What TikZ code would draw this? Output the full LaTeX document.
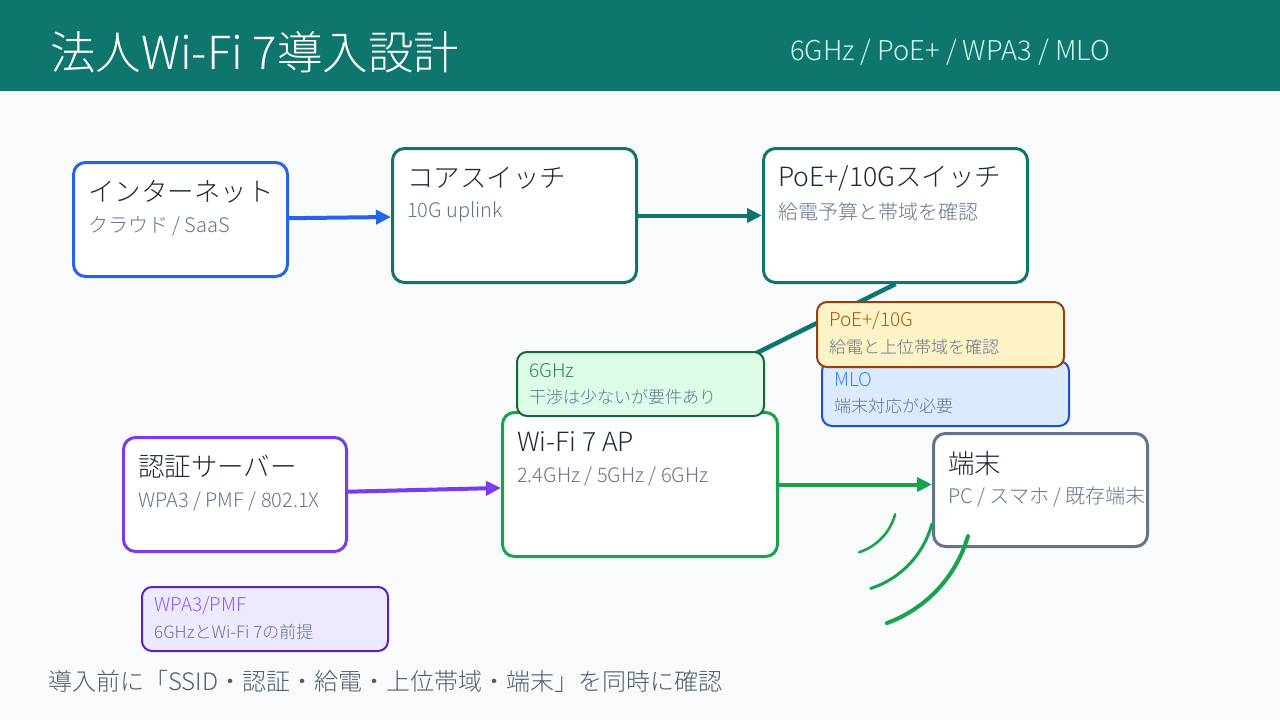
\documentclass[tikz,border=0pt]{standalone}
\usepackage{fontspec}
\setmainfont{Noto Sans CJK JP}[UprightFont={* Light}, BoldFont={*}]
\usetikzlibrary{arrows.meta,positioning}
\definecolor{hdrteal}{HTML}{0F766E}
\definecolor{hdrsub}{HTML}{CCFBF1}
\definecolor{pagebg}{HTML}{F8FAFC}
\definecolor{netblue}{HTML}{2563EB}
\definecolor{authpurple}{HTML}{7C3AED}
\definecolor{apgreen}{HTML}{16A34A}
\definecolor{termslate}{HTML}{64748B}
\definecolor{titleink}{HTML}{1E293B}
\definecolor{subink}{HTML}{64748B}
\definecolor{ghzfill}{HTML}{DCFCE7}
\definecolor{ghzline}{HTML}{166534}
\definecolor{ghzink}{HTML}{2F855A}
\definecolor{poefill}{HTML}{FEF3C7}
\definecolor{poeline}{HTML}{92400E}
\definecolor{poeink}{HTML}{B45309}
\definecolor{mlofill}{HTML}{DBEAFE}
\definecolor{mloline}{HTML}{1D4ED8}
\definecolor{mloink}{HTML}{3B82F6}
\definecolor{wpafill}{HTML}{EDE9FE}
\definecolor{wpaline}{HTML}{5B21B6}
\definecolor{wpaink}{HTML}{8B5CF6}
\tikzset{netbox/.style 2 args={draw, line width=3pt, rounded corners=12pt, fill=white,
  minimum width=#1pt, minimum height=#2pt, inner sep=0pt},
  notebox/.style 2 args={draw, line width=2pt, rounded corners=10pt,
  minimum width=#1pt, minimum height=#2pt, inner sep=0pt},
  headtxt/.style={anchor=west, inner sep=0pt, text=titleink, font=\fontsize{26.5}{30}\selectfont},
  subtxt/.style={anchor=west, inner sep=0pt, text=subink, font=\fontsize{20}{24}\selectfont},
  notehead/.style={anchor=west, inner sep=0pt, font=\fontsize{19}{22}\selectfont},
  notesub/.style={anchor=west, inner sep=0pt, text=subink, font=\fontsize{17}{20}\selectfont},
  flowarrow/.style={-{Triangle[length=15pt,width=14pt]}, line width=4pt},
  wave/.style={line cap=round, draw=apgreen}}

\begin{document}
\begin{tikzpicture}[x=1pt, y=-1pt]
    \fill[pagebg] (0,0) rectangle (1280,720);
    \useasboundingbox (0,0) rectangle (1280,720);
    \fill[hdrteal] (0,0) rectangle (1280,91);
    \node[anchor=west, inner sep=0pt, text=white, font=\fontsize{45.5}{50}\selectfont] (title) at (50,52) {法人Wi-Fi 7導入設計};
    \node[anchor=west, inner sep=0pt, text=hdrsub, font=\fontsize{27.3}{32}\selectfont] (tags) at (790,52) {6GHz / PoE+ / WPA3 / MLO};
    % main devices
    \node[netbox={214}{114}, draw=netblue] (inet) at (180.5,219.5) {};
    \node[netbox={244}{134}, draw=hdrteal] (core) at (514.5,215.5) {};
    \node[netbox={264}{134}, draw=hdrteal] (poe) at (895.5,215.5) {};
    \node[netbox={223}{114}, draw=authpurple] (auth) at (235,494.5) {};
    \node[netbox={275}{144}, draw=apgreen] (ap) at (640,484.5) {};
    \node[netbox={214}{113}, draw=termslate] (term) at (1040.5,490) {};
    \node[headtxt] (inetT) at ([shift={(16,31)}]inet.north west) {インターネット};
    \node[subtxt] (inetS) at ([shift={(16,65)}]inet.north west) {クラウド / SaaS};
    \node[headtxt] (coreT) at ([shift={(16,31)}]core.north west) {コアスイッチ};
    \node[subtxt] (coreS) at ([shift={(16,65)}]core.north west) {10G uplink};
    \node[headtxt] (poeT) at ([shift={(16,31)}]poe.north west) {PoE+/10Gスイッチ};
    \node[subtxt] (poeS) at ([shift={(16,65)}]poe.north west) {給電予算と帯域を確認};
    \node[headtxt] (authT) at ([shift={(16,31)}]auth.north west) {認証サーバー};
    \node[subtxt] (authS) at ([shift={(16,65)}]auth.north west) {WPA3 / PMF / 802.1X};
    \node[headtxt] (apT) at ([shift={(16,31)}]ap.north west) {Wi-Fi 7 AP};
    \node[subtxt] (apS) at ([shift={(16,65)}]ap.north west) {2.4GHz / 5GHz / 6GHz};
    \node[headtxt] (termT) at ([shift={(16,31)}]term.north west) {端末};
    \node[subtxt] (termS) at ([shift={(16,65)}]term.north west) {PC / スマホ / 既存端末};
    % links
    \draw[flowarrow, netblue] (inet) -- (core);
    \draw[flowarrow, hdrteal] (core) -- (poe);
    \draw[flowarrow, hdrteal, line width=4.5pt] (poe.south) -- (ap.north);
    \draw[flowarrow, authpurple] (auth) -- (ap);
    \draw[flowarrow, apgreen] (ap.east) -- (term.west |- ap.east);
    % radio waves
    \coordinate (air) at (842,500);
    \draw[wave, line width=2.5pt] (air) ++(15:55) arc[start angle=15, end angle=72, radius=55];
    \draw[wave, line width=3pt] (air) ++(15:93) arc[start angle=15, end angle=72, radius=93];
    \draw[wave, line width=4pt] (air) ++(16:131) arc[start angle=16, end angle=70, radius=131];
    % notes
    \node[notebox={247}{65}, draw=mloline, fill=mlofill] (mloN) at (945.5,393.5) {};
    \node[notebox={247}{65}, draw=poeline, fill=poefill] (poeN) at (940.5,334.5) {};
    \node[notebox={247}{64}, draw=ghzline, fill=ghzfill] (ghzN) at (640.5,384) {};
    \node[notebox={246}{64}, draw=wpaline, fill=wpafill] (wpaN) at (265,619) {};
    \node[notehead, text=mloink] (mloT) at ([shift={(13,20)}]mloN.north west) {MLO};
    \node[notesub] (mloS) at ([shift={(13,46)}]mloN.north west) {端末対応が必要};
    \node[notehead, text=poeink] (poeNT) at ([shift={(13,20)}]poeN.north west) {PoE+/10G};
    \node[notesub] (poeNS) at ([shift={(13,46)}]poeN.north west) {給電と上位帯域を確認};
    \node[notehead, text=ghzink] (ghzT) at ([shift={(13,20)}]ghzN.north west) {6GHz};
    \node[notesub] (ghzS) at ([shift={(13,46)}]ghzN.north west) {干渉は少ないが要件あり};
    \node[notehead, text=wpaink] (wpaT) at ([shift={(13,20)}]wpaN.north west) {WPA3/PMF};
    \node[notesub] (wpaS) at ([shift={(13,46)}]wpaN.north west) {6GHzとWi-Fi 7の前提};
    \node[anchor=west, inner sep=0pt, text=subink!80!black, font=\fontsize{24}{28}\selectfont] (foot) at (48,681) {導入前に「SSID・認証・給電・上位帯域・端末」を同時に確認};
  \end{tikzpicture}
\end{document}
